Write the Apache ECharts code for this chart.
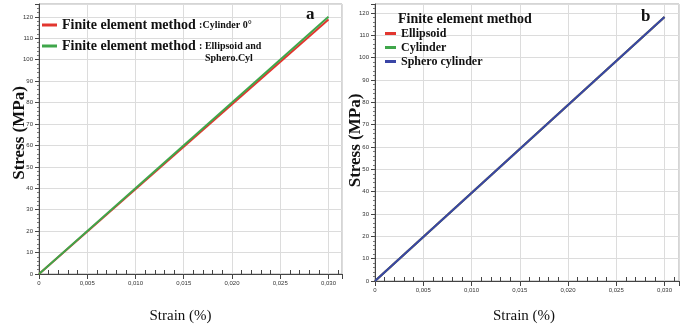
<!DOCTYPE html>
<html>
<head>
<meta charset="utf-8">
<script src="https://cdn.jsdelivr.net/npm/echarts@6/dist/echarts.min.js"></script>
<style>
  html, body { margin: 0; padding: 0; background: #fff; }
  #chart { width: 686px; height: 329px; }
</style>
</head>
<body>
<div id="chart"></div>
<script>
// panel a
const strainA = [0, 0.030];
const cylinder0 = [0, 118.8];
const ellipsoidSphero = [0, 120];
// panel b
const strainB = [0, 0.030];
const ellipsoidB = [0, 118.2];
const cylinderB = [0, 118.2];
const spheroB = [0, 118.2];

const namesA = ['Finite element method :Cylinder 0°', 'Finite element method : Ellipsoid and Sphero.Cyl'];
const namesB = ['Ellipsoid', 'Cylinder', 'Sphero cylinder'];

const RED = '#e2362f', GREEN = '#3fa64a', BLUE = '#3a45a6';
const serif = '"Liberation Serif", "DejaVu Serif", serif';

const zip = (xs, ys) => xs.map((x, i) => [x, ys[i]]);
const fmtStrain = v => v === 0 ? '0' : v.toFixed(3).replace('.', ',');

function xAxisFor(gi, max, gap, pad) {
  return {
    type: 'value', gridIndex: gi, min: 0, max: max, interval: 0.005,
    name: 'Strain (%)', nameLocation: 'middle', nameGap: gap, nameMoveOverlap: false,
    nameTextStyle: { fontFamily: serif, fontSize: 15, color: '#111', padding: pad },
    axisLine: { show: true, lineStyle: { color: '#444', width: 1 } },
    axisTick: { show: true, length: 5, lineStyle: { color: '#444' } },
    minorTick: { show: true, splitNumber: 5, length: -4, lineStyle: { color: '#444' } },
    axisLabel: { formatter: fmtStrain, fontSize: 6, color: '#333', margin: 6, showMaxLabel: false },
    splitLine: { show: true, lineStyle: { color: '#dcdcdc' } }
  };
}
function yAxisFor(gi, max, gap, pad) {
  return {
    type: 'value', gridIndex: gi, min: 0, max: max, interval: 10,
    name: 'Stress (MPa)', nameLocation: 'middle', nameGap: gap, nameMoveOverlap: false,
    nameTextStyle: { fontFamily: serif, fontSize: 17, fontWeight: 'bold', color: '#111', padding: pad },
    axisLine: { show: true, lineStyle: { color: '#444', width: 1 } },
    axisTick: { show: true, length: 4, lineStyle: { color: '#444' } },
    minorTick: { show: true, splitNumber: 5, length: 2, lineStyle: { color: '#777' } },
    axisLabel: { fontSize: 6, color: '#333', margin: 6, showMaxLabel: false },
    splitLine: { show: true, lineStyle: { color: '#dcdcdc' } }
  };
}
function lineSeries(name, xi, data, color) {
  return {
    name: name, type: 'line', xAxisIndex: xi, yAxisIndex: xi,
    data: data, symbol: 'none', color: color,
    lineStyle: { width: 2, color: color }
  };
}

const chart = echarts.init(document.getElementById('chart'));
chart.setOption({
  animation: false,
  backgroundColor: '#fff',
  grid: [
    { left: 39, top: 4, right: 344, bottom: 53, show: true, borderColor: '#aaa', borderWidth: 1 },
    { left: 375, top: 4, right: 7, bottom: 46, show: true, borderColor: '#aaa', borderWidth: 1 }
  ],
  xAxis: [xAxisFor(0, 0.0314, 35, [0, 20, 0, 0]), xAxisFor(1, 0.0315, 28, [0, 6, 0, 0])],
  yAxis: [yAxisFor(0, 126, 11, [0, 0, 0, 12]), yAxisFor(1, 124, 11, [0, 0, 0, 4])],
  legend: [
    {
      data: namesA, orient: 'vertical', left: 37, top: 13, itemGap: 7,
      icon: 'rect', itemWidth: 15, itemHeight: 3,
      formatter: name => name === namesA[0]
        ? '{a|Finite element method} {b|:Cylinder 0°}'
        : '{a|Finite element method} {b|: Ellipsoid and}',
      textStyle: {
        rich: {
          a: { fontFamily: serif, fontSize: 14, fontWeight: 'bold', color: '#111' },
          b: { fontFamily: serif, fontSize: 10, fontWeight: 'bold', color: '#111' }
        }
      }
    },
    {
      data: namesB, orient: 'vertical', left: 380, top: 22, itemGap: 1,
      icon: 'rect', itemWidth: 11, itemHeight: 3,
      textStyle: { fontFamily: serif, fontSize: 12, fontWeight: 'bold', color: '#111', lineHeight: 13 }
    }
  ],
  graphic: [
    { type: 'text', z: 100, left: 205, top: 53, style: { text: 'Sphero.Cyl', font: 'bold 10px ' + serif, fill: '#111' } },
    { type: 'text', z: 100, left: 306, top: 6, style: { text: 'a', font: 'bold 17px ' + serif, fill: '#111' } },
    { type: 'text', z: 100, left: 398, top: 12, style: { text: 'Finite element method', font: 'bold 14px ' + serif, fill: '#111' } },
    { type: 'text', z: 100, left: 641, top: 8, style: { text: 'b', font: 'bold 17px ' + serif, fill: '#111' } }
  ],
  series: [
    lineSeries(namesA[0], 0, zip(strainA, cylinder0), RED),
    lineSeries(namesA[1], 0, zip(strainA, ellipsoidSphero), GREEN),
    lineSeries(namesB[0], 1, zip(strainB, ellipsoidB), RED),
    lineSeries(namesB[1], 1, zip(strainB, cylinderB), GREEN),
    lineSeries(namesB[2], 1, zip(strainB, spheroB), BLUE)
  ]
});
</script>
</body>
</html>
